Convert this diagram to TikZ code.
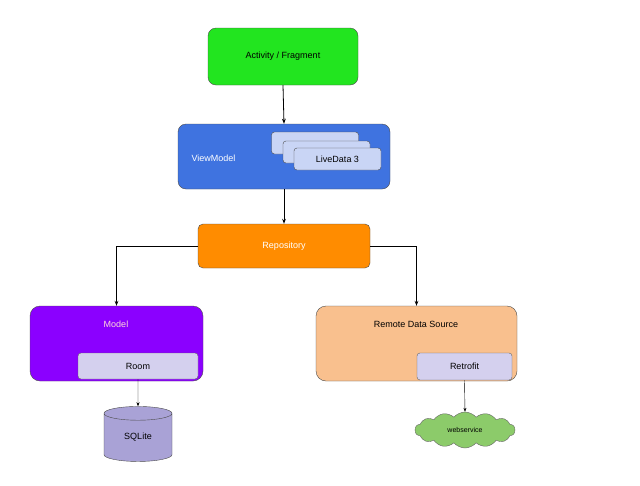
\documentclass[tikz,border=0pt]{standalone}
\usepackage{fontspec}
\setmainfont{Liberation Sans}
\usetikzlibrary{shapes.geometric,shapes.symbols,arrows.meta}
\definecolor{cgreen}{HTML}{22E51F}
\definecolor{cblue}{HTML}{3F73E0}
\definecolor{ccard}{HTML}{C9D5F5}
\definecolor{corange}{HTML}{FF8C00}
\definecolor{cpurple}{HTML}{8B00FF}
\definecolor{cpeach}{HTML}{F9C08E}
\definecolor{clav}{HTML}{D4D0EE}
\definecolor{csql}{HTML}{A9A2D6}
\definecolor{ccloud}{HTML}{8CCB6A}
\tikzset{
 box/.style={draw=black!70,rounded corners=8pt,minimum width=#1,inner sep=0pt,font=\fontsize{9}{11}\selectfont},
 card/.style={draw=black!70,rounded corners=3pt,fill=ccard,minimum width=87pt,minimum height=22pt,inner sep=0pt,font=\fontsize{9}{11}\selectfont},
 sub/.style={draw=black!60,rounded corners=3pt,fill=clav,inner sep=0pt,font=\fontsize{9}{11}\selectfont},
 arr/.style={-{Stealth[length=5pt]},thick},
 arrs/.style={-{Stealth[length=4pt]},thin}
}
\begin{document}
\begin{tikzpicture}[x=1pt,y=-1pt]
\useasboundingbox[fill=white] (0,0) rectangle (640,485);
\node[box=150pt,fill=cgreen,minimum height=57pt] (act) at (283,56.5) {Activity / Fragment};
\node[box=212pt,fill=cblue,minimum height=65pt] (vm) at (284,156.5) {};
\node[text=white,font=\fontsize{9}{11}\selectfont,anchor=west] (vmt) at (188,158) {ViewModel};
\node[card] (c1) at (315,143) {};
\node[card] (c2) at (326.5,152) {};
\node[card,minimum height=22pt] (c3) at (337.5,159) {LiveData 3};
\node[box=172pt,fill=corange,minimum height=44pt,rounded corners=5pt,text=white] (repo) at (284,246) {Repository};
\node[box=173pt,fill=cpurple,minimum height=75pt,rounded corners=10pt] (model) at (116.5,343.5) {};
\node[text=pink!60!white,font=\fontsize{9}{11}\selectfont] (modelt) at (116,324) {Model};
\node[sub,minimum width=120pt,minimum height=26pt] (room) at (138,366) {Room};
\node[box=201pt,fill=cpeach,minimum height=75pt,rounded corners=10pt] (remote) at (416.5,343.5) {};
\node[font=\fontsize{9}{11}\selectfont] (remotet) at (416,324) {Remote Data Source};
\node[sub,minimum width=95pt,minimum height=27pt] (retro) at (464.5,366.5) {Retrofit};
\node[cylinder,shape border rotate=90,draw=black!70,fill=csql,minimum width=68pt,minimum height=55pt,aspect=0.5,inner sep=0pt,font=\fontsize{9}{11}\selectfont] (sql) at (138,437.5) {SQLite};
\node[cloud,cloud puffs=14,cloud puff arc=100,aspect=3,draw=black!60,fill=ccloud,minimum width=100pt,minimum height=36pt,inner sep=0pt,font=\fontsize{7}{9}\selectfont] (web) at (465,430) {webservice};
\draw[arr] (act.south) -- (vm.north);
\draw[arr] (vm.south) -- (repo.north);
\draw[arr] (repo.west) -| (model.north);
\draw[arr] (repo.east) -| (remote.north);
\draw[arrs] (room.south) -- (sql.north);
\draw[arrs] (retro.south) -- (web.north);
\end{tikzpicture}
\end{document}
